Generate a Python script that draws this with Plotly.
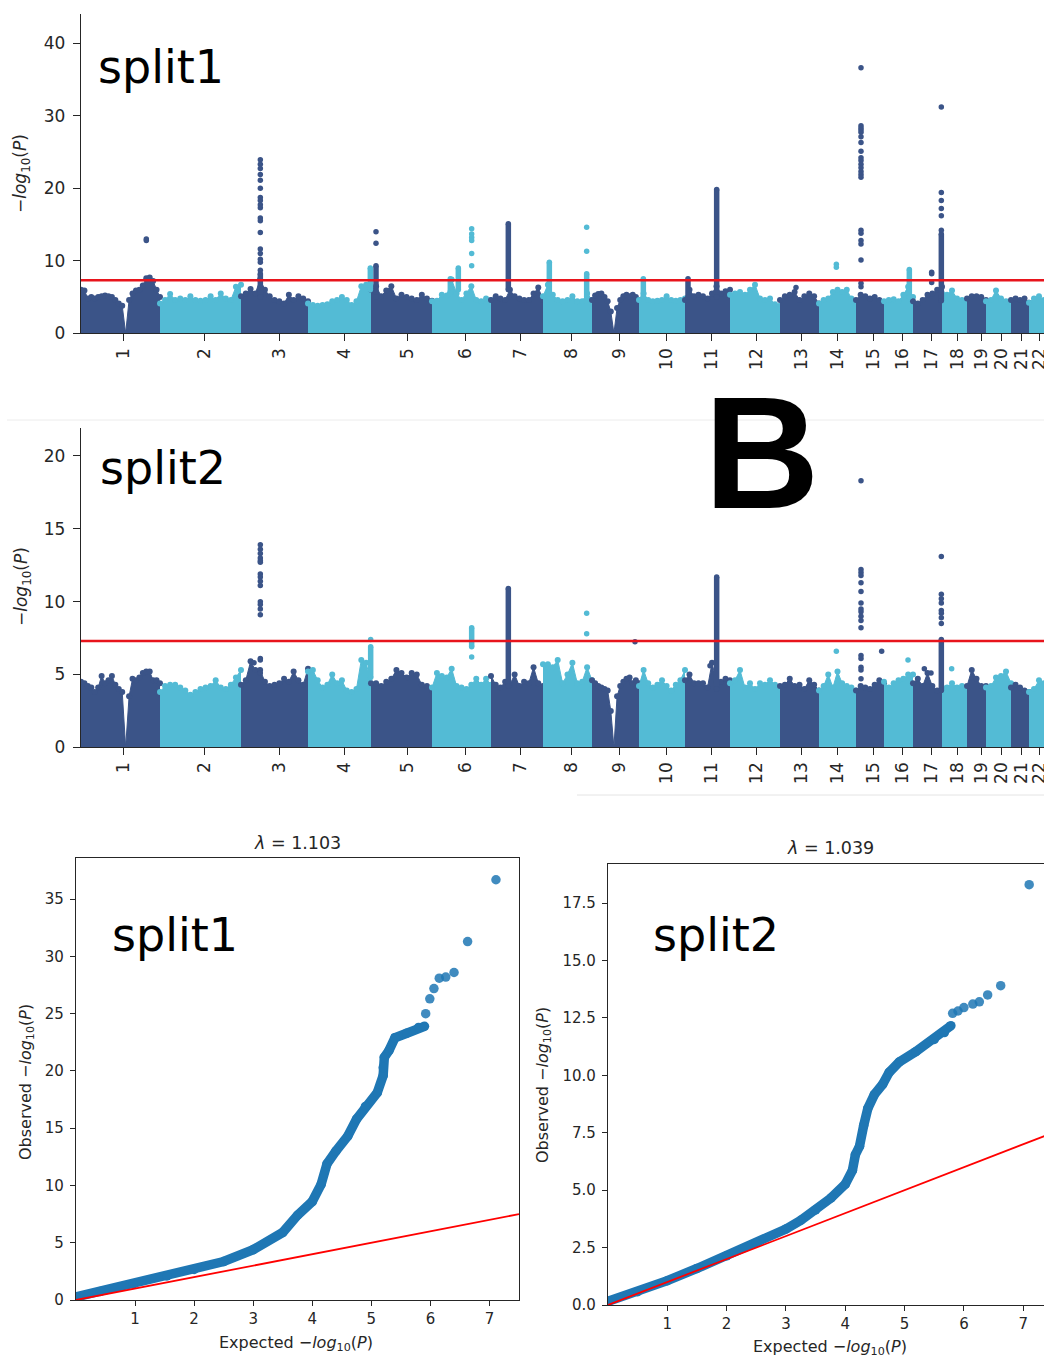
import numpy as np
import plotly.graph_objects as go

W, H = 1044, 1359
DARK, LIGHT = "#3B5488", "#53BBD5"
QQ_BLUE = "#1f77b4"
AXIS = "#262626"
FONT = "DejaVu Sans"

# ---------------------------------------------------------------- genome layout
chromosomes = [str(c) for c in range(1, 23)]
chrom_length_mb = [237, 243, 201, 189, 183, 177, 156, 147, 141, 138, 135,
                   150, 117, 111, 84, 87, 87, 75, 57, 75, 54, 60]
chrom_tick_mb = [128, 371, 594, 789, 978, 1152, 1317, 1470, 1615, 1757, 1892,
                 2025, 2162, 2269, 2377, 2465, 2552, 2630, 2702, 2760, 2822, 2874]
genome_wide_p = 5e-8

# --------------------------------------------- split1: background -log10(P) skyline per chromosome
split1_envelope = [
    [6.0, 5.9, 4.8, 5.0, 4.8, 5.0, 5.1, 5.2, 5.1, 5.0, 4.6, 4.1, 3.8, 0.0, 4.6, 5.5, 5.9, 6.0, 6.6, 7.6, 7.7, 7.2, 6.0, 5.0],
    [4.1, 4.6, 5.4, 4.6, 4.8, 4.6, 5.1, 4.6, 4.5, 4.6, 5.1, 4.6, 5.5, 4.8, 4.6, 6.4, 6.7],
    [5.1, 5.5, 6.1, 5.5, 7.4, 6.0, 5.1, 4.6, 4.4, 4.1, 5.3, 4.6, 5.1, 4.8, 4.4],
    [4.1, 3.9, 3.8, 3.9, 4.0, 4.4, 4.6, 5.0, 4.6, 3.9, 4.4, 6.5, 6.7, 5.3],
    [6.0, 6.5, 5.1, 5.9, 6.5, 4.8, 5.3, 5.0, 4.8, 4.6, 5.3, 4.8, 4.5],
    [4.4, 4.5, 5.3, 5.2, 7.4, 5.5, 4.6, 5.5, 6.5, 4.6, 4.4, 4.8, 4.6],
    [4.6, 5.1, 4.8, 4.6, 6.0, 5.1, 4.8, 4.6, 4.6, 5.5, 6.3, 4.6],
    [5.1, 6.7, 5.3, 4.6, 4.4, 4.6, 5.1, 4.4, 4.4, 5.5, 4.6],
    [4.6, 5.2, 5.4, 5.5, 5.0, 4.4, 3.0, 0.0, 3.5, 4.6, 5.1, 5.3, 5.1, 5.3, 5.0, 4.6],
    [4.6, 5.5, 4.6, 4.4, 4.5, 4.6, 5.1, 4.6, 4.5, 4.6, 4.8],
    [4.6, 6.0, 5.1, 5.3, 5.1, 4.8, 5.5, 6.5, 5.5, 5.8, 6.0],
    [5.3, 5.5, 5.7, 5.3, 6.0, 6.7, 4.8, 4.6, 4.8, 4.0, 3.8],
    [4.6, 5.1, 5.3, 5.7, 4.6, 5.1, 5.5, 5.1, 4.1],
    [4.1, 4.6, 4.8, 5.7, 6.0, 5.7, 6.0, 4.8, 4.1],
    [4.6, 5.3, 5.1, 4.8, 5.0, 4.6, 4.1],
    [4.4, 4.6, 4.7, 4.4, 5.3, 6.4, 5.0],
    [4.4, 4.1, 4.6, 5.3, 5.5, 6.0, 6.4],
    [5.5, 5.3, 5.9, 4.8, 4.6, 4.4],
    [4.8, 5.1, 5.1, 5.0, 4.6],
    [4.4, 4.6, 5.9, 4.8, 4.4, 4.2],
    [4.6, 4.8, 4.6, 4.8, 4.2],
    [4.2, 4.8, 5.1, 4.6, 4.4],
]
# dense stacks of associated SNPs: (chromosome, position Mb, lowest, highest)
split1_columns = [
    (3, 58, 5.0, 8.2), (4, 187, 6.0, 9.0), (5, 15, 5.0, 9.3),
    (6, 55, 5.5, 7.5), (6, 79, 6.0, 9.0), (7, 52, 6.0, 15.1),
    (8, 19, 5.5, 9.8), (8, 131, 5.0, 8.2), (10, 13, 5.0, 7.5),
    (11, 9, 5.0, 7.5), (11, 95, 5.0, 19.8), (16, 76, 5.0, 8.8),
    (17, 85, 4.5, 13.7),
]
# individual SNPs standing out above the background: (chromosome, position Mb, values)
split1_points = [
    (1, 196, [13.0, 12.8]),
    (3, 58, [23.9, 23.3, 22.7, 21.9, 21.1, 20.0, 18.7, 18.3, 17.7, 17.3, 15.9,
             15.5, 13.9, 11.6, 11.0, 10.2, 9.8, 8.7]),
    (5, 15, [14.0, 12.4]),
    (6, 119, [14.4, 13.7, 13.2, 12.8, 11.0, 9.3]),
    (8, 131, [14.6, 11.3]),
    (13, 48, [6.3]),
    (14, 52, [9.5, 9.1]),
    (15, 15, [36.6, 28.6, 28.3, 28.0, 27.7, 27.1, 26.3, 25.1, 24.2, 23.8, 23.3,
              22.8, 22.3, 21.9, 21.5, 14.2, 13.8, 12.8, 12.3, 10.1, 6.9, 6.4]),
    (17, 56, [8.4, 8.2, 7.0]),
    (17, 85, [31.2, 19.4, 18.3, 17.2, 16.2, 14.2]),
]

# --------------------------------------------- split2
split2_envelope = [
    [4.5, 4.4, 4.2, 4.1, 3.8, 4.1, 4.9, 4.4, 4.6, 4.9, 4.3, 4.0, 3.8, 0.0, 3.5, 4.7, 4.6, 4.8, 5.1, 5.2, 5.2, 4.6, 4.6, 4.4],
    [3.8, 4.2, 4.3, 4.3, 4.1, 3.9, 3.6, 3.8, 4.0, 4.1, 4.2, 4.6, 4.1, 4.0, 4.3, 4.8, 5.3],
    [4.3, 4.6, 5.9, 5.3, 5.3, 4.5, 4.2, 4.3, 4.4, 4.7, 4.5, 5.2, 4.6, 4.3, 5.4],
    [5.2, 5.3, 4.6, 4.1, 4.3, 5.0, 4.4, 4.6, 3.9, 3.8, 4.0, 6.0, 5.8, 4.4],
    [4.4, 4.4, 4.2, 4.5, 4.7, 5.3, 5.1, 4.8, 5.1, 5.0, 4.3, 4.2, 3.9],
    [4.1, 5.1, 4.9, 4.8, 5.4, 4.2, 4.1, 4.0, 4.3, 4.7, 4.3, 4.7, 4.3],
    [4.9, 4.3, 4.1, 4.5, 4.3, 5.0, 4.2, 4.5, 4.4, 5.5, 4.4, 4.2],
    [5.7, 5.7, 5.5, 6.0, 4.4, 5.0, 5.8, 4.4, 4.5, 5.5, 4.6],
    [4.6, 4.4, 4.2, 4.1, 4.0, 3.9, 2.5, 0.0, 3.5, 4.2, 4.5, 4.7, 4.8, 4.4, 4.6, 4.4],
    [4.2, 5.3, 4.4, 4.1, 4.3, 4.6, 4.2, 3.9, 4.3, 4.6, 5.3],
    [4.6, 5.0, 4.4, 4.4, 4.4, 4.1, 5.8, 4.5, 4.5, 4.7, 4.6],
    [4.4, 4.6, 5.3, 4.1, 4.4, 4.0, 4.4, 4.3, 4.6, 4.3, 4.0],
    [4.2, 4.3, 4.7, 4.2, 4.3, 4.0, 4.6, 4.3, 3.9],
    [3.9, 4.2, 5.0, 4.1, 5.2, 4.4, 4.2, 4.1, 3.9],
    [3.9, 4.2, 4.1, 4.0, 4.3, 4.6, 4.4],
    [4.5, 4.1, 4.4, 4.6, 4.7, 5.0, 5.0],
    [4.4, 4.7, 4.2, 5.1, 4.2, 3.9, 4.0],
    [4.1, 4.1, 4.4, 4.1, 4.2, 4.0],
    [4.2, 5.3, 4.7, 4.2, 4.2],
    [4.1, 4.2, 4.8, 4.9, 5.2, 4.4],
    [4.1, 4.3, 4.1, 3.9, 3.8],
    [3.8, 4.0, 4.6, 4.4, 4.3],
]
split2_columns = [
    (4, 188, 4.8, 6.9), (6, 119, 6.9, 8.2), (7, 52, 4.2, 10.9),
    (11, 95, 4.0, 11.7), (17, 85, 3.9, 7.4),
]
split2_points = [
    (3, 58, [13.9, 13.6, 13.3, 13.0, 12.8, 12.7, 11.9, 11.7, 11.4, 11.1, 10.0,
             9.8, 9.5, 9.1, 6.1, 6.0, 5.1]),
    (3, 39, [5.8]),
    (4, 188, [7.4]),
    (6, 119, [6.2]),
    (8, 131, [9.2, 7.8]),
    (9, 129, [7.25]),
    (11, 75, [5.6]),
    (14, 52, [6.6]),
    (15, 15, [18.3, 12.2, 12.0, 11.8, 11.3, 10.7, 9.9, 9.5, 9.3, 9.0, 8.7, 8.2,
              6.3, 6.1, 5.5, 5.3, 4.7]),
    (15, 77, [6.6]),
    (16, 72, [6.0]),
    (17, 34, [5.4]),
    (17, 54, [5.1]),
    (17, 85, [13.1, 10.5, 10.2, 9.9, 9.4, 9.2, 8.9, 8.5]),
    (18, 29, [5.4]),
]

# --------------------------------------------- QQ plots: expected vs observed -log10(P)
qq1_band_exp = [0.0, 0.41, 0.97, 1.54, 2.0, 2.5, 3.0, 3.5, 3.75, 4.0, 4.15, 4.25,
                4.4, 4.6, 4.75, 4.9, 5.1, 5.2, 5.22, 5.3, 5.4, 5.6, 5.8, 5.9]
qq1_band_obs = [0.27, 0.75, 1.41, 2.1, 2.67, 3.36, 4.4, 5.9, 7.4, 8.6, 10.1, 11.9,
                13.0, 14.3, 15.8, 16.9, 18.1, 19.6, 21.2, 21.8, 22.9, 23.3, 23.8, 23.9]
qq1_tail_exp = [5.2, 5.92, 5.99, 6.06, 6.15, 6.26, 6.40, 6.63, 7.11]
qq1_tail_obs = [20.3, 25.0, 26.3, 27.2, 28.1, 28.2, 28.6, 31.3, 36.7]

qq2_band_exp = [0.0, 0.5, 1.0, 1.5, 2.0, 2.5, 3.0, 3.25, 3.5, 3.76, 4.0, 4.12, 4.17,
                4.24, 4.31, 4.38, 4.49, 4.63, 4.74, 4.91, 5.19, 5.5, 5.67, 5.78]
qq2_band_obs = [0.16, 0.58, 1.06, 1.59, 2.14, 2.71, 3.31, 3.69, 4.14, 4.66, 5.26, 5.86,
                6.54, 6.91, 7.81, 8.56, 9.16, 9.61, 10.13, 10.58, 11.03, 11.56, 11.86, 12.16]
qq2_tail_exp = [5.81, 5.9, 6.0, 6.15, 6.26, 6.4, 6.62, 7.1]
qq2_tail_obs = [12.7, 12.8, 12.95, 13.1, 13.2, 13.5, 13.9, 18.3]

lambda_gc = {"split1": 1.103, "split2": 1.039}


def px_x(px):
    return px / W


def px_y(py):
    return 1 - py / H


fig = go.Figure()
starts = np.concatenate([[0], np.cumsum(chrom_length_mb)[:-1]])


def chrom_color(c):
    return DARK if c % 2 == 1 else LIGHT


def add_manhattan(envelope, columns, points, xa, ya):
    for i, heights in enumerate(envelope):
        col = chrom_color(i + 1)
        xs = starts[i] + np.linspace(0, chrom_length_mb[i], len(heights))
        fig.add_trace(go.Scatter(
            x=xs, y=heights, mode="lines+markers", fill="tozeroy",
            fillcolor=col, line=dict(color=col, width=1),
            marker=dict(color=col, size=6), xaxis=xa, yaxis=ya,
            hoverinfo="skip", showlegend=False))
    for parity, col in ((1, DARK), (0, LIGHT)):
        cx, cy = [], []
        for c, pos, lo, hi in columns:
            if c % 2 == parity:
                x = starts[c - 1] + pos
                cx += [x, x, None]
                cy += [lo, hi, None]
        if cx:
            fig.add_trace(go.Scatter(
                x=cx, y=cy, mode="lines+markers",
                line=dict(color=col, width=5.5),
                marker=dict(color=col, size=5.5), xaxis=xa, yaxis=ya,
                hoverinfo="skip", showlegend=False))
        px_, py_ = [], []
        for c, pos, vals in points:
            if c % 2 == parity:
                px_ += [starts[c - 1] + pos] * len(vals)
                py_ += vals
        if px_:
            fig.add_trace(go.Scatter(
                x=px_, y=py_, mode="markers",
                marker=dict(color=col, size=5.5), xaxis=xa, yaxis=ya,
                hoverinfo="skip", showlegend=False))


add_manhattan(split1_envelope, split1_columns, split1_points, "x", "y")
add_manhattan(split2_envelope, split2_columns, split2_points, "x2", "y2")


def add_qq(bx, by, tx, ty, xa, ya, xmax):
    fig.add_trace(go.Scatter(
        x=bx, y=by, mode="lines+markers",
        line=dict(color=QQ_BLUE, width=9.5),
        marker=dict(color=QQ_BLUE, size=9.5), xaxis=xa, yaxis=ya,
        hoverinfo="skip", showlegend=False))
    fig.add_trace(go.Scatter(
        x=tx, y=ty, mode="markers",
        marker=dict(color=QQ_BLUE, size=9.5, opacity=0.85), xaxis=xa, yaxis=ya,
        hoverinfo="skip", showlegend=False))
    fig.add_trace(go.Scatter(
        x=[0, xmax], y=[0, xmax], mode="lines",
        line=dict(color="red", width=1.8), xaxis=xa, yaxis=ya,
        hoverinfo="skip", showlegend=False))


add_qq(qq1_band_exp, qq1_band_obs, qq1_tail_exp, qq1_tail_obs, "x3", "y3", 7.5)
add_qq(qq2_band_exp, qq2_band_obs, qq2_tail_exp, qq2_tail_obs, "x4", "y4", 7.5)

axis_common = dict(showgrid=False, zeroline=False, showline=True, linecolor=AXIS,
                   linewidth=1.3, ticks="outside", tickcolor=AXIS, tickwidth=1.3)

man_x = dict(axis_common, range=[0, (W - 81) * 3], tickmode="array",
             tickvals=chrom_tick_mb, ticktext=chromosomes, tickangle=-90,
             ticklen=7, ticklabeloverflow="allow",
             tickfont=dict(family=FONT, size=17, color=AXIS))
man_y = dict(axis_common, ticklen=7, ticklabelstandoff=4,
             tickfont=dict(family=FONT, size=17, color=AXIS))

fig.update_layout(
    width=W, height=H, margin=dict(l=0, r=0, t=0, b=0),
    paper_bgcolor="white", plot_bgcolor="white", template="none",
    font=dict(family=FONT, color=AXIS), showlegend=False,
    xaxis=dict(man_x, domain=[px_x(81), 1], anchor="y"),
    yaxis=dict(man_y, domain=[px_y(333.3), px_y(14)], range=[0, 44.0],
               tickvals=[0, 10, 20, 30, 40], anchor="x"),
    xaxis2=dict(man_x, domain=[px_x(81), 1], anchor="y2"),
    yaxis2=dict(man_y, domain=[px_y(747.3), px_y(428.3)], range=[0, 21.9],
                tickvals=[0, 5, 10, 15, 20], anchor="x2"),
    xaxis3=dict(axis_common, domain=[px_x(76), px_x(519)], range=[0, 7.5],
                tickvals=[1, 2, 3, 4, 5, 6, 7], ticklen=5, mirror=True,
                tickfont=dict(family=FONT, size=15, color=AXIS), anchor="y3"),
    yaxis3=dict(axis_common, domain=[px_y(1300), px_y(858)], range=[0, 38.6],
                tickvals=[0, 5, 10, 15, 20, 25, 30, 35], ticklen=5, mirror=True,
                ticklabelstandoff=3,
                tickfont=dict(family=FONT, size=15, color=AXIS), anchor="x3"),
    xaxis4=dict(axis_common, domain=[px_x(608), 1], range=[0, 7.35],
                tickvals=[1, 2, 3, 4, 5, 6, 7], ticklen=5, mirror=True,
                tickfont=dict(family=FONT, size=15, color=AXIS), anchor="y4"),
    yaxis4=dict(axis_common, domain=[px_y(1305), px_y(864)], range=[0, 19.2],
                tickvals=[0, 2.5, 5, 7.5, 10, 12.5, 15, 17.5], tickformat=".1f",
                ticklen=5, ticklabelstandoff=3,
                tickfont=dict(family=FONT, size=15, color=AXIS), anchor="x4"),
)

threshold = -np.log10(genome_wide_p)
for xa, ya in (("x", "y"), ("x2", "y2")):
    fig.add_shape(type="line", xref=xa, yref=ya, x0=0, x1=sum(chrom_length_mb),
                  y0=threshold, y1=threshold, line=dict(color="#e8141c", width=2.4))

# faint panel borders
fig.add_shape(type="line", xref="paper", yref="paper", x0=px_x(7), x1=1,
              y0=px_y(420), y1=px_y(420), line=dict(color="#ececec", width=1))
fig.add_shape(type="line", xref="paper", yref="paper", x0=px_x(577), x1=1,
              y0=px_y(795), y1=px_y(795), line=dict(color="#e4e4e4", width=1))

logp = "\u2212<i>log</i><sub>10</sub>(<i>P</i>)"


def note(text, x, y, size, xanchor="center", angle=0, family=FONT, weight=None, color="black"):
    f = dict(family=family, size=size, color=color)
    if weight:
        f["weight"] = weight
    fig.add_annotation(text=text, x=px_x(x), y=px_y(y), xref="paper", yref="paper",
                       xanchor=xanchor, yanchor="middle", showarrow=False,
                       textangle=angle, font=f)


note("split1", 96, 67, 46, xanchor="left")
note("split2", 98, 468, 46, xanchor="left")
note("split1", 110, 935, 46, xanchor="left")
note("split2", 651, 935, 46, xanchor="left")
note("B", 762, 452, 160, family="Liberation Sans", weight="bold")

note(logp, 22, 174, 17, angle=-90, color=AXIS)
note(logp, 22, 587, 17, angle=-90, color=AXIS)
note("Observed " + logp, 26, 1082, 16, angle=-90, color=AXIS)
note("Observed " + logp, 543, 1085, 16, angle=-90, color=AXIS)
note("Expected " + logp, 296, 1343, 16, color=AXIS)
note("Expected " + logp, 830, 1347, 16, color=AXIS)
note("<i>\u03bb</i> = %.3f" % lambda_gc["split1"], 297, 843, 17.5, color=AXIS)
note("<i>\u03bb</i> = %.3f" % lambda_gc["split2"], 830, 848, 17.5, color=AXIS)

fig.write_html("out.html")
